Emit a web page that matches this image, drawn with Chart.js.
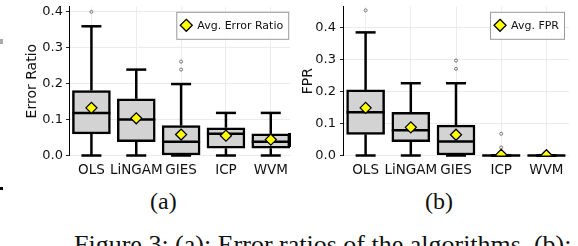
<!DOCTYPE html>
<html>
<head>
<meta charset="utf-8">
<script src="https://cdn.jsdelivr.net/npm/chart.js@4.4.0/dist/chart.umd.min.js"></script>
<style>
  body { margin: 0; background: #fff; width: 578px; height: 246px; overflow: hidden; position: relative; }
  .panel { position: absolute; top: 0; height: 182px; overflow: hidden; }
  .cap { position: absolute; font-family: "Liberation Serif", "Times New Roman", serif; color: #111; white-space: nowrap; }
  .mark { position: absolute; background: #000; }
</style>
</head>
<body>
<div class="panel" style="left:0;width:290px"><canvas id="chartA" width="300" height="182"></canvas></div>
<div class="panel" style="left:290px;width:288px"><canvas id="chartB" width="288" height="182"></canvas></div>
<div class="cap" style="left:150px;top:188px;font-size:24px">(a)</div>
<div class="cap" style="left:425px;top:188px;font-size:24px">(b)</div>
<div class="cap" style="left:74px;top:230px;font-size:26px">Figure 3: (a): Error ratios of the algorithms, (b):</div>
<div class="mark" style="left:0;top:187px;width:3px;height:3px"></div>
<div class="mark" style="left:288px;top:133px;width:3px;height:14px"></div>
<div class="mark" style="left:0;top:39px;width:3px;height:5px;background:#aaa"></div>
<script>
// 算法名称
const categories = ['OLS', 'LiNGAM', 'GIES', 'ICP', 'WVM'];
const yTicks = [0, 0.1, 0.2, 0.3, 0.4];
const yTickLabels = ['0.0', '0.1', '0.2', '0.3', '0.4'];

// (a) Error Ratio 箱线图统计量
const errLow = [0, 0, 0, 0, 0];
const errQ1 = [0.06, 0.038, 0, 0.02, 0.02];
const errMed = [0.118, 0.1, 0.038, 0.06, 0.038];
const errQ3 = [0.18, 0.157, 0.083, 0.077, 0.06];
const errHigh = [0.358, 0.238, 0.198, 0.118, 0.118];
const errMean = [0.132, 0.103, 0.058, 0.055, 0.044];
const errOutliers = [[0.398], [], [0.238, 0.26], [], []];

// (b) FPR 箱线图统计量
const fprLow = [0, 0, 0, 0, 0];
const fprQ1 = [0.066, 0.043, 0, 0, 0];
const fprMed = [0.135, 0.079, 0.044, 0, 0];
const fprQ3 = [0.205, 0.135, 0.095, 0, 0];
const fprHigh = [0.385, 0.226, 0.226, 0, 0];
const fprMean = [0.149, 0.088, 0.065, 0.002, 0.001];
const fprOutliers = [[0.454], [], [0.271, 0.297], [0.025, 0.068], []];

const FONT = '"DejaVu Sans", sans-serif';

// 须线、中位线
const boxPlugin = {
    id: 'boxWhisker',
    afterDatasetDraw(chart, args, opts) {
        if (args.index !== 0) return;
        const ctx = chart.ctx;
        const x = chart.scales.x, y = chart.scales.y;
        ctx.save();
        ctx.strokeStyle = '#000';
        ctx.lineWidth = 2.5;
        categories.forEach((c, i) => {
            const cx = x.getPixelForValue(i);
            const seg = (x1, y1, x2, y2) => {
                ctx.beginPath(); ctx.moveTo(x1, y1); ctx.lineTo(x2, y2); ctx.stroke();
            };
            seg(cx, y.getPixelForValue(opts.q1[i]), cx, y.getPixelForValue(opts.low[i]));
            seg(cx, y.getPixelForValue(opts.q3[i]), cx, y.getPixelForValue(opts.high[i]));
            seg(cx - 10, y.getPixelForValue(opts.low[i]), cx + 10, y.getPixelForValue(opts.low[i]));
            seg(cx - 10, y.getPixelForValue(opts.high[i]), cx + 10, y.getPixelForValue(opts.high[i]));
            seg(cx - 19, y.getPixelForValue(opts.med[i]), cx + 19, y.getPixelForValue(opts.med[i]));
        });
        ctx.restore();
    },
    afterDraw(chart, args, opts) {
        // 图例
        const ctx = chart.ctx;
        const area = chart.chartArea;
        ctx.save();
        ctx.font = '11px ' + FONT;
        const tw = ctx.measureText(opts.label).width;
        const w = tw + 26, h = 27;
        const left = area.right - 5 - w, top = area.top + 5;
        ctx.fillStyle = 'rgba(255,255,255,0.9)';
        ctx.fillRect(left, top, w, h);
        ctx.strokeStyle = '#999';
        ctx.lineWidth = 1;
        ctx.strokeRect(left + 0.5, top + 0.5, w, h);
        const dx = left + 10, dy = top + h / 2;
        ctx.beginPath();
        ctx.moveTo(dx, dy - 6); ctx.lineTo(dx + 6, dy); ctx.lineTo(dx, dy + 6); ctx.lineTo(dx - 6, dy); ctx.closePath();
        ctx.fillStyle = '#ffff00';
        ctx.fill();
        ctx.strokeStyle = '#000';
        ctx.lineWidth = 1.3;
        ctx.stroke();
        ctx.fillStyle = '#111';
        ctx.textBaseline = 'middle';
        ctx.fillText(opts.label, left + 21, dy + 0.5);
        ctx.restore();
    }
};

function makeChart(id, s) {
    const outlierPts = [];
    s.outliers.forEach((arr, i) => arr.forEach(v => outlierPts.push({ x: categories[i], y: v })));
    return new Chart(document.getElementById(id), {
        type: 'bar',
        data: {
            labels: categories,
            datasets: [{
                data: s.q1.map((q, i) => [q, s.q3[i]]),
                backgroundColor: '#d3d3d3',
                borderColor: '#000',
                borderWidth: 2.5,
                borderSkipped: false,
                barThickness: 38,
                order: 3
            }, {
                type: 'line',
                data: outlierPts,
                showLine: false,
                pointStyle: 'circle',
                pointRadius: 1.5,
                pointBackgroundColor: 'rgba(0,0,0,0)',
                pointBorderColor: '#777',
                pointBorderWidth: 1,
                order: 2
            }, {
                type: 'line',
                data: s.mean,
                showLine: false,
                pointStyle: 'rectRot',
                pointRadius: 5.5,
                pointBackgroundColor: '#ffff00',
                pointBorderColor: '#000',
                pointBorderWidth: 1.3,
                order: 1
            }]
        },
        options: {
            responsive: false,
            animation: false,
            events: [],
            layout: { padding: { top: 1.7, right: s.padRight, left: 0, bottom: 0 } },
            plugins: {
                legend: { display: false },
                tooltip: { enabled: false },
                boxWhisker: { low: s.low, q1: s.q1, med: s.med, q3: s.q3, high: s.high, label: s.label }
            },
            scales: {
                x: {
                    grid: { color: '#ececec', offset: false, drawTicks: false },
                    border: { display: false },
                    ticks: { font: { family: FONT, size: 13.5 }, color: '#111', padding: 7, maxRotation: 0, autoSkip: false },
                    afterFit(scale) { scale.height = 26.5; scale.paddingLeft = 0; scale.paddingRight = 0; }
                },
                y: {
                    min: 0,
                    max: s.max,
                    grid: { color: '#ececec', tickColor: '#222', tickLength: 3 },
                    border: { display: true, color: '#000', width: 1 },
                    ticks: {
                        font: { family: FONT, size: 13 },
                        color: '#111',
                        padding: s.tickPad,
                        callback: (v) => yTickLabels[yTicks.indexOf(Math.round(v * 10) / 10)]
                    },
                    afterBuildTicks(scale) { scale.ticks = yTicks.map(v => ({ value: v })); },
                    title: { display: true, text: s.title, font: { family: FONT, size: 14 }, color: '#111', padding: { top: s.titlePad, bottom: 0 } },
                    afterFit(scale) { scale.width = s.axisW; scale.paddingTop = 0; scale.paddingBottom = 0; }
                }
            }
        },
        plugins: [boxPlugin]
    });
}

makeChart('chartA', {
    low: errLow, q1: errQ1, med: errMed, q3: errQ3, high: errHigh, mean: errMean, outliers: errOutliers,
    max: 0.412, title: 'Error Ratio', label: 'Avg. Error Ratio', axisW: 69, padRight: 6, tickPad: 3, titlePad: 24
});
makeChart('chartB', {
    low: fprLow, q1: fprQ1, med: fprMed, q3: fprQ3, high: fprHigh, mean: fprMean, outliers: fprOutliers,
    max: 0.465, title: 'FPR', label: 'Avg. FPR', axisW: 53, padRight: 9, tickPad: 4, titlePad: 10
});
</script>
</body>
</html>
